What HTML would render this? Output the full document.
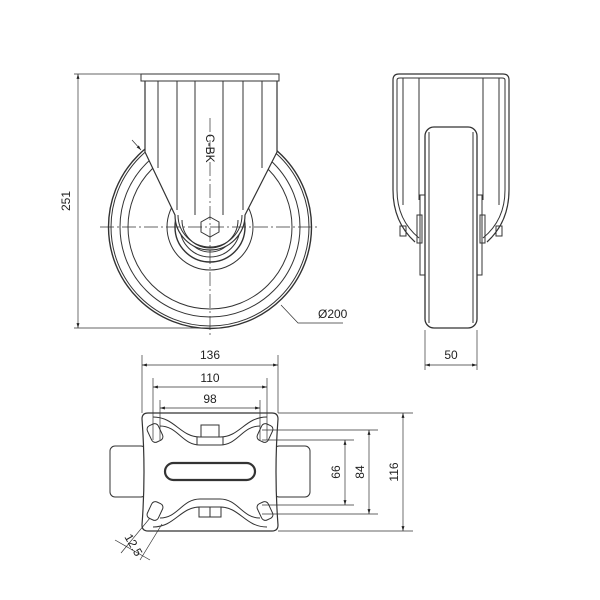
<!DOCTYPE html>
<html><head><meta charset="utf-8"><style>
body{margin:0;background:#fff}
svg{display:block}
text{font-family:"Liberation Sans","DejaVu Sans",sans-serif;font-size:12px;fill:#222}
</style></head><body>
<svg width="600" height="600" viewBox="0 0 600 600" xmlns="http://www.w3.org/2000/svg">
<defs>
<marker id="a" viewBox="0 0 10 10" refX="10" refY="5" markerWidth="7" markerHeight="7" orient="auto-start-reverse"><path d="M0,2 L10,5 L0,8z" fill="#222"/></marker>
</defs>
<g fill="none" stroke="#333" stroke-width="1">
<circle cx="210" cy="227" r="101.5" stroke-width="1.4"/>
<circle cx="210" cy="227" r="99"/>
<circle cx="210" cy="227" r="90"/>
<circle cx="210" cy="227" r="82"/>
<circle cx="210" cy="227" r="43"/>
<circle cx="210" cy="227" r="35" stroke-width="1.4"/>
<circle cx="210" cy="227" r="30"/>
<circle cx="210" cy="227" r="25"/>
<path d="M145,80 L145,152 L175,215 A35,35 0 0 0 245,215 L277,152 L277,80 Z" fill="#fff" stroke-width="1.2"/>
<rect x="141" y="74" width="138" height="7" fill="#fff"/>
<line x1="158" y1="81" x2="158" y2="168"/><line x1="177" y1="81" x2="177" y2="210"/>
<line x1="195" y1="81" x2="195" y2="215"/><line x1="223" y1="81" x2="223" y2="215"/>
<line x1="243" y1="81" x2="243" y2="210"/><line x1="262" y1="81" x2="262" y2="168"/>
<path d="M178,215 A32,32 0 0 0 242,215"/>
<path d="M182,220 A28,28 0 0 0 238,220"/>
<polygon points="210,217 219,222 219,232 210,237 201,232 201,222" fill="#fff"/>
<line x1="100" y1="227" x2="320" y2="227" stroke-dasharray="14,3,2,3" stroke-width="0.7"/>
<line x1="210" y1="118" x2="210" y2="338" stroke-dasharray="14,3,2,3" stroke-width="0.7"/>
<line x1="74" y1="74" x2="141" y2="74" stroke-width="0.7"/>
<line x1="74" y1="328" x2="210" y2="328" stroke-width="0.7"/>
<line x1="78" y1="74" x2="78" y2="328" stroke-width="0.7" marker-start="url(#a)" marker-end="url(#a)"/>
<line x1="132" y1="140" x2="141" y2="150" stroke-width="0.7" marker-end="url(#a)"/>
<polyline points="281,305 298,323 343,323" stroke-width="0.7"/>
<!-- SIDE VIEW -->
<path d="M415,242 Q393,222 393,190 L393,80 Q393,74 399,74 L503,74 Q509,74 509,80 L509,190 Q509,222 487,242" stroke-width="1.2"/>
<path d="M419,238 Q397,220 397,190 L397,80 Q397,78 400,78 L502,78 Q505,78 505,80 L505,190 Q505,220 483,238"/>
<line x1="403" y1="78" x2="403" y2="205"/><line x1="499" y1="78" x2="499" y2="205"/>
<line x1="419" y1="78" x2="419" y2="200"/><line x1="483" y1="78" x2="483" y2="200"/>
<rect x="420" y="195" width="5" height="80"/><rect x="477" y="195" width="5" height="80"/>
<rect x="417" y="215" width="5" height="28"/><rect x="480" y="215" width="5" height="28"/>
<rect x="400" y="226" width="6" height="10"/><rect x="496" y="226" width="6" height="10"/>
<rect x="425" y="127" width="52" height="201" rx="9" fill="#fff" stroke-width="1.3"/>
<line x1="429" y1="132" x2="429" y2="323"/><line x1="473" y1="132" x2="473" y2="323"/>
<line x1="425" y1="330" x2="425" y2="370" stroke-width="0.7"/>
<line x1="477" y1="330" x2="477" y2="370" stroke-width="0.7"/>
<line x1="425" y1="365" x2="477" y2="365" stroke-width="0.7" marker-start="url(#a)" marker-end="url(#a)"/>
<!-- BOTTOM VIEW -->
<rect x="110" y="446" width="36" height="51" rx="5"/>
<rect x="274" y="446" width="36" height="51" rx="5"/>
<path d="M148,413 L272,413 Q278,413 278,419 Q274,472 278,525 Q278,531 272,531 L148,531 Q142,531 142,525 Q146,472 142,419 Q142,413 148,413 Z" fill="#fff" stroke-width="1.2"/>
<path d="M153,417 C175,417 180,437 200,437 L220,437 C240,437 245,417 267,417"/>
<path d="M160,426 C178,426 182,445 200,445 L220,445 C238,445 242,426 260,426"/>
<path d="M153,527 C175,527 180,507 200,507 L220,507 C240,507 245,527 267,527"/>
<path d="M160,518 C178,518 182,499 200,499 L220,499 C238,499 242,518 260,518"/>
<line x1="197" y1="437" x2="197" y2="445"/><line x1="223" y1="437" x2="223" y2="445"/>
<rect x="201" y="425" width="18" height="12" fill="#fff"/>
<rect x="199" y="507" width="22" height="10" fill="#fff"/>
<line x1="210" y1="507" x2="210" y2="517"/>
<rect x="149" y="424" width="12" height="18" rx="4" transform="rotate(-25 155 433)"/>
<rect x="259" y="424" width="12" height="18" rx="4" transform="rotate(25 265 433)"/>
<rect x="149" y="502" width="12" height="18" rx="4" transform="rotate(25 155 511)"/>
<rect x="259" y="502" width="12" height="18" rx="4" transform="rotate(-25 265 511)"/>
<rect x="165" y="463" width="90" height="17" rx="8.5" stroke-width="2.2"/>
<line x1="142" y1="355" x2="142" y2="413" stroke-width="0.7"/><line x1="278" y1="355" x2="278" y2="413" stroke-width="0.7"/>
<line x1="153" y1="378" x2="153" y2="440" stroke-width="0.7"/><line x1="267" y1="378" x2="267" y2="440" stroke-width="0.7"/>
<line x1="160" y1="400" x2="160" y2="440" stroke-width="0.7"/><line x1="260" y1="400" x2="260" y2="440" stroke-width="0.7"/>
<line x1="142" y1="365" x2="278" y2="365" stroke-width="0.7" marker-start="url(#a)" marker-end="url(#a)"/>
<line x1="153" y1="387" x2="267" y2="387" stroke-width="0.7" marker-start="url(#a)" marker-end="url(#a)"/>
<line x1="160" y1="408" x2="260" y2="408" stroke-width="0.7" marker-start="url(#a)" marker-end="url(#a)"/>
<line x1="278" y1="413" x2="413" y2="413" stroke-width="0.7"/><line x1="278" y1="531" x2="413" y2="531" stroke-width="0.7"/>
<line x1="262" y1="430" x2="378" y2="430" stroke-width="0.7"/><line x1="262" y1="514" x2="378" y2="514" stroke-width="0.7"/>
<line x1="262" y1="440" x2="354" y2="440" stroke-width="0.7"/><line x1="262" y1="505" x2="354" y2="505" stroke-width="0.7"/>
<line x1="345" y1="440" x2="345" y2="505" stroke-width="0.7" marker-start="url(#a)" marker-end="url(#a)"/>
<line x1="369" y1="430" x2="369" y2="514" stroke-width="0.7" marker-start="url(#a)" marker-end="url(#a)"/>
<line x1="403" y1="413" x2="403" y2="531" stroke-width="0.7" marker-start="url(#a)" marker-end="url(#a)"/>
<line x1="150" y1="518" x2="121" y2="553" stroke-width="0.7"/>
<line x1="162" y1="524" x2="140" y2="560" stroke-width="0.7"/>
<line x1="115" y1="540" x2="150" y2="560" stroke-width="0.7"/>
</g>
<text x="70" y="201" text-anchor="middle" transform="rotate(-90 70 201)">251</text>
<text x="318" y="318" font-size="12">Ø200</text>
<text x="451" y="359" text-anchor="middle">50</text>
<text x="210" y="359" text-anchor="middle">136</text>
<text x="210" y="382" text-anchor="middle">110</text>
<text x="210" y="403" text-anchor="middle">98</text>
<text x="340" y="472" text-anchor="middle" transform="rotate(-90 340 472)">66</text>
<text x="364" y="472" text-anchor="middle" transform="rotate(-90 364 472)">84</text>
<text x="398" y="472" text-anchor="middle" transform="rotate(-90 398 472)">116</text>
<text x="130" y="547" text-anchor="middle" transform="rotate(60 130 547)" font-size="11">12.5</text>
<text x="206" y="134" font-size="5" transform="rotate(90 206 134)">C-BK</text>
</svg>
</body></html>
